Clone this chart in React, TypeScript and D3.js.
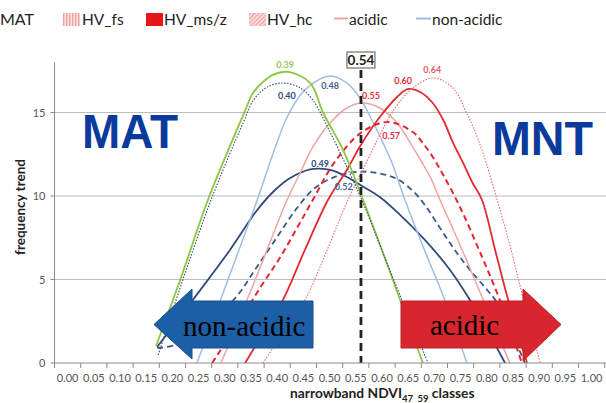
import React from 'react';
import * as d3 from 'd3';

const W = 606;
const H = 403;

// Category labels of the NDVI classes
const xClasses = [
  '0.00', '0.05', '0.10', '0.15', '0.20', '0.25', '0.30', '0.35', '0.40', '0.45', '0.50',
  '0.55', '0.60', '0.65', '0.70', '0.75', '0.80', '0.85', '0.90', '0.95', '1.00',
];
const yTicks = [0, 5, 10, 15];

type Pt = [number, number];

// Fitted frequency trends: [narrowband NDVI, frequency]
const matTrend: Pt[] = [
  [0.149, 1.02], [0.195, 4.97], [0.25, 9.94], [0.317, 14.97], [0.334, 16.17], [0.353, 16.83],
  [0.372, 17.25], [0.401, 17.43], [0.443, 16.77], [0.468, 14.97], [0.506, 12.75], [0.542, 9.94],
  [0.601, 4.97], [0.658, 0],
];
const nonAcidicFs: Pt[] = [
  [0.153, 0.48], [0.2, 4.97], [0.256, 9.94], [0.315, 14.37], [0.335, 15.75], [0.36, 16.5],
  [0.391, 16.77], [0.424, 16.47], [0.448, 15.75], [0.481, 13.83], [0.513, 11.74], [0.54, 9.88],
  [0.605, 4.79], [0.668, 0],
];
const nonAcidicAll: Pt[] = [
  [0.227, 0], [0.286, 4.97], [0.342, 9.76], [0.376, 12.87], [0.401, 14.85], [0.433, 16.35],
  [0.481, 17.19], [0.513, 16.77], [0.538, 15.87], [0.555, 14.91], [0.576, 13.59], [0.6, 11.92],
  [0.624, 9.76], [0.662, 6.7], [0.7, 3.77], [0.742, 0],
];
const nonAcidicMsz: Pt[] = [
  [0.151, 0.96], [0.219, 3.77], [0.29, 6.77], [0.342, 9.16], [0.376, 10.36], [0.405, 11.08],
  [0.443, 11.6], [0.481, 11.56], [0.513, 11.14], [0.542, 10.6], [0.576, 9.94], [0.615, 8.86],
  [0.662, 7.37], [0.71, 5.57], [0.748, 3.77], [0.786, 1.68], [0.815, 0],
];
const nonAcidicHc: Pt[] = [
  [0.151, 0.9], [0.185, 1.08], [0.242, 2.28], [0.3, 3.89], [0.34, 5.69], [0.38, 7.54],
  [0.418, 9.28], [0.452, 10.48], [0.49, 11.14], [0.532, 11.44], [0.571, 11.38], [0.609, 11.02],
  [0.639, 10.3], [0.662, 9.46], [0.691, 8.08], [0.719, 6.77], [0.748, 5.57], [0.781, 4.37],
  [0.8, 3.59], [0.853, 0],
];
const acidicAll: Pt[] = [
  [0.273, 0], [0.338, 4.97], [0.399, 9.76], [0.424, 11.38], [0.448, 12.93], [0.481, 14.37],
  [0.513, 15.27], [0.542, 15.57], [0.576, 15.27], [0.609, 14.37], [0.639, 12.93], [0.672, 11.14],
  [0.691, 9.76], [0.729, 7.07], [0.763, 4.55], [0.824, 0],
];
const acidicHc: Pt[] = [
  [0.256, 0], [0.309, 2.57], [0.351, 4.67], [0.385, 6.29], [0.418, 8.08], [0.448, 9.76],
  [0.49, 12.04], [0.542, 13.83], [0.592, 14.43], [0.639, 13.83], [0.658, 13.17], [0.677, 12.34],
  [0.697, 11.26], [0.729, 9.34], [0.767, 6.65], [0.805, 3.77], [0.847, 0],
];
const acidicMsz: Pt[] = [
  [0.319, 0], [0.357, 1.98], [0.391, 3.77], [0.433, 6.77], [0.477, 9.76], [0.513, 11.56],
  [0.542, 13.17], [0.576, 14.73], [0.609, 15.93], [0.63, 16.41], [0.653, 16.23], [0.677, 15.57],
  [0.697, 14.55], [0.716, 13.17], [0.735, 11.98], [0.752, 10.84], [0.771, 9.76], [0.796, 6.77],
  [0.821, 3.77], [0.857, 0],
];
const acidicFs: Pt[] = [
  [0.353, 0], [0.395, 1.98], [0.433, 3.77], [0.477, 6.89], [0.515, 9.76], [0.548, 11.86],
  [0.576, 13.65], [0.605, 15.27], [0.639, 16.47], [0.676, 17.07], [0.704, 16.77], [0.723, 16.17],
  [0.739, 15.15], [0.754, 14.13], [0.773, 12.57], [0.8, 9.76], [0.824, 7.07], [0.844, 4.55], [0.882, 0],
];

// Peak position annotations
const peakTexts = ['0.39', '0.40', '0.48', '0.49', '0.52', '0.55', '0.57', '0.60', '0.64'];
const threshold = 0.54;

// Legend entries
const legendNames = ['HV_fs', 'HV_ms/z', 'HV_hc', 'acidic', 'non-acidic'];

const curveStyles = [
  { data: nonAcidicMsz, color: '#2f4b7c', width: 1.8, dash: '' },
  { data: nonAcidicHc, color: '#3b5a8a', width: 1.8, dash: '6,4' },
  { data: nonAcidicAll, color: '#9cbde3', width: 1.5, dash: '' },
  { data: acidicAll, color: '#f0a3a3', width: 1.5, dash: '' },
  { data: acidicHc, color: '#e8242c', width: 2, dash: '6,4' },
  { data: acidicMsz, color: '#e52a2f', width: 1.8, dash: '' },
  { data: acidicFs, color: '#ee6a6a', width: 1.1, dash: '1.5,1.5' },
  { data: matTrend, color: '#8cc63f', width: 1.8, dash: '' },
  { data: nonAcidicFs, color: '#2f4b7c', width: 1.1, dash: '1.5,1.5' },
];

// Which curve each peak annotation belongs to, with its offset and colour
const peakPlacement = [
  { curve: matTrend, dx: -3, dy: -4, color: '#92cc55' },
  { curve: nonAcidicFs, dx: 4, dy: 16, color: '#2f4b7c' },
  { curve: nonAcidicAll, dx: 0, dy: 13, color: '#41618f' },
  { curve: nonAcidicMsz, dx: 10, dy: -2, color: '#2f4b7c' },
  { curve: nonAcidicHc, dx: -13, dy: 18, color: '#44628f' },
  { curve: acidicAll, dx: 9, dy: -4, color: '#e8303a' },
  { curve: acidicHc, dx: 3, dy: 17, color: '#e8303a' },
  { curve: acidicMsz, dx: -5, dy: -5, color: '#e8303a' },
  { curve: acidicFs, dx: 0, dy: -5, color: '#ee5a5a' },
];

export default function App() {
  const left = 54.5;
  const right = 604.7;
  const bottom = 363;
  const top = 62.4;

  const xBand = d3.scaleBand<string>().domain(xClasses).range([left, right]).paddingInner(0).paddingOuter(0);
  const xFit = d3.scaleLinear().domain([0, 1]).range([78, 602]);
  const y = d3.scaleLinear().domain([0, 18]).range([bottom, top]);

  const line = d3
    .line<Pt>()
    .x((d) => xFit(d[0]))
    .y((d) => y(d[1]))
    .curve(d3.curveCatmullRom.alpha(0.5));

  const step = xBand.step();
  const boundaries = d3.range(xClasses.length + 1).map((i) => left + i * step);

  const sans = 'Lato, "Liberation Sans", sans-serif';

  // legend layout
  const legendY = 18.5;

  return (
    <svg
      width={W}
      height={H}
      viewBox={`0 0 ${W} ${H}`}
      style={{ position: 'absolute', left: 0, top: 0, background: '#fff' }}
    >
      <defs>
        <pattern id="vstripes" width="3" height="4" patternUnits="userSpaceOnUse">
          <rect width="3" height="4" fill="#fbe3e3" />
          <rect width="1.4" height="4" fill="#f1a0a0" />
        </pattern>
        <pattern id="dstripes" width="3" height="3" patternUnits="userSpaceOnUse" patternTransform="rotate(45)">
          <rect width="3" height="3" fill="#fbe3e3" />
          <rect width="1.3" height="3" fill="#f1a0a0" />
        </pattern>
      </defs>

      <rect x={0} y={0} width={W} height={H} fill="#fff" />

      {/* horizontal gridlines */}
      {yTicks
        .filter((t) => t > 0)
        .map((t) => (
          <line key={t} x1={left} x2={W} y1={y(t)} y2={y(t)} stroke="#bdbdbd" strokeWidth={1.2} />
        ))}

      {/* fitted curves */}
      {curveStyles.map((c, i) => (
        <path
          key={i}
          d={line(c.data) || ''}
          fill="none"
          stroke={c.color}
          strokeWidth={c.width}
          strokeDasharray={c.dash || undefined}
        />
      ))}

      {/* threshold */}
      <line
        x1={xFit(threshold)}
        x2={xFit(threshold)}
        y1={70}
        y2={bottom}
        stroke="#222"
        strokeWidth={2.8}
        strokeDasharray="8,5"
      />
      <rect x={xFit(threshold) - 14} y={52} width={28} height={16} fill="#fff" stroke="#555" strokeWidth={1} />
      <text
        x={xFit(threshold)}
        y={65}
        textAnchor="middle"
        fontFamily={sans}
        fontWeight="bold"
        fontSize={13.5}
        fill="#222"
      >
        {threshold.toFixed(2)}
      </text>

      {/* peak annotations */}
      {peakPlacement.map((p, i) => {
        const peak = p.curve.reduce((a, b) => (b[1] > a[1] ? b : a));
        return (
          <text
            key={i}
            x={xFit(peak[0]) + p.dx}
            y={y(peak[1]) + p.dy}
            textAnchor="middle"
            fontFamily={sans}
            fontWeight="bold"
            fontSize={9}
            fill={p.color}
          >
            {peakTexts[i]}
          </text>
        );
      })}

      {/* direction arrows */}
      <path
        d="M192,301 L313,301 L313,348 L192,348 L192,359 L154,324.5 L192,289 Z"
        fill="#1c5fa6"
        stroke="#17508e"
        strokeWidth={1}
      />
      <text x={183} y={336} fontFamily='"Liberation Serif", "Times New Roman", serif' fontSize={29} fill="#000">
        non-acidic
      </text>
      <path
        d="M401,301 L523,301 L523,289 L561,324.5 L523,361 L523,348 L401,348 Z"
        fill="#d7262e"
        stroke="#c21f27"
        strokeWidth={1}
      />
      <text x={430} y={335} fontFamily='"Liberation Serif", "Times New Roman", serif' fontSize={29} fill="#000">
        acidic
      </text>

      {/* group labels */}
      <text
        x={82}
        y={148}
        fontFamily='"Liberation Sans", Arial, sans-serif'
        fontWeight="bold"
        fontSize={48}
        fill="#0a3a9c"
        textLength={96}
        lengthAdjust="spacingAndGlyphs"
      >
        MAT
      </text>
      <text
        x={492}
        y={155}
        fontFamily='"Liberation Sans", Arial, sans-serif'
        fontWeight="bold"
        fontSize={48}
        fill="#0a3a9c"
        textLength={101}
        lengthAdjust="spacingAndGlyphs"
      >
        MNT
      </text>

      {/* axes */}
      <line x1={left} x2={left} y1={top} y2={bottom} stroke="#8a8a8a" strokeWidth={1} />
      <line x1={left} x2={W} y1={bottom} y2={bottom} stroke="#8a8a8a" strokeWidth={1} />
      {yTicks.map((t) => (
        <g key={t}>
          <line x1={left - 4} x2={left} y1={y(t)} y2={y(t)} stroke="#8a8a8a" />
          <text x={left - 9} y={y(t) + 4} textAnchor="end" fontFamily={sans} fontSize={11} fill="#555">
            {t}
          </text>
        </g>
      ))}
      {boundaries.map((b, i) => (
        <line key={i} x1={b} x2={b} y1={bottom} y2={bottom + 5} stroke="#8a8a8a" />
      ))}
      {xClasses.map((c) => (
        <text
          key={c}
          x={(xBand(c) ?? 0) + step / 2}
          y={382}
          textAnchor="middle"
          fontFamily={sans}
          fontSize={11}
          fill="#555"
        >
          {c}
        </text>
      ))}

      {/* axis titles */}
      <text
        transform="translate(25,207) rotate(-90)"
        textAnchor="middle"
        fontFamily={sans}
        fontWeight="bold"
        fontSize={13.5}
        fill="#222"
      >
        frequency trend
      </text>
      <text x={290} y={398} fontFamily={sans} fontWeight="bold" fontSize={13.8} fill="#222">
        narrowband NDVI
        <tspan fontSize={9.5} dy={4}>47_59</tspan>
        <tspan dy={-4}> classes</tspan>
      </text>

      {/* legend */}
      <text x={0} y={25} fontFamily={sans} fontSize={16} fill="#222">
        MAT
      </text>
      <rect x={63} y={13} width={17} height={13} fill="url(#vstripes)" />
      <text x={82} y={25} fontFamily={sans} fontSize={15.5} fill="#222">
        {legendNames[0]}
      </text>
      <rect x={146} y={13} width={17} height={13} fill="#e8151b" />
      <text x={164} y={25} fontFamily={sans} fontSize={15.5} fill="#222">
        {legendNames[1]}
      </text>
      <rect x={249} y={13} width={17} height={13} fill="url(#dstripes)" />
      <text x={267} y={25} fontFamily={sans} fontSize={15.5} fill="#222">
        {legendNames[2]}
      </text>
      <line x1={334} x2={348} y1={legendY} y2={legendY} stroke="#f0a3a3" strokeWidth={2} />
      <text x={349} y={25} fontFamily={sans} fontSize={15.5} fill="#222">
        {legendNames[3]}
      </text>
      <line x1={416} x2={431} y1={legendY} y2={legendY} stroke="#9cbde3" strokeWidth={2} />
      <text x={432} y={25} fontFamily={sans} fontSize={15.5} fill="#222">
        {legendNames[4]}
      </text>
    </svg>
  );
}
